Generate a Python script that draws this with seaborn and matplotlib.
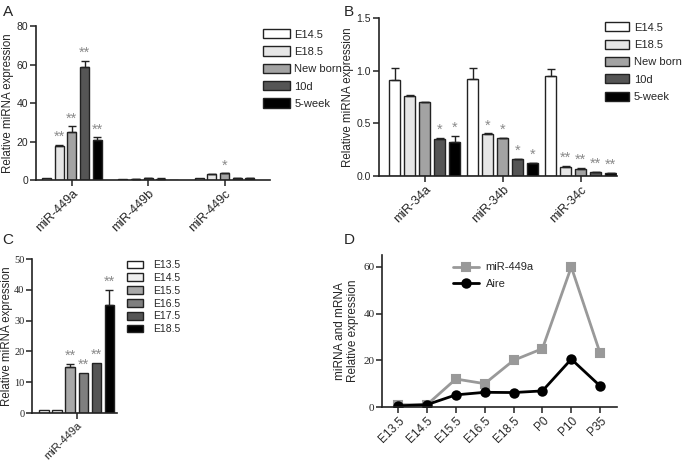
import numpy as np
import pandas as pd
import seaborn as sns
import matplotlib.pyplot as plt

sns.set_style("ticks")
plt.rcParams['font.family'] = ['Liberation Sans', 'DejaVu Sans']

# panel A data
a_groups = ['miR-449a', 'miR-449b', 'miR-449c']
a_stages = ['E14.5', 'E18.5', 'New born', '10d', '5-week']
a_vals = {
    'E14.5': [1.0, 0.8, 1.0],
    'E18.5': [18.0, 0.6, 3.0],
    'New born': [25.3, 0.9, 3.5],
    '10d': [59.0, 0.8, 1.2],
    '5-week': [20.8, 0.3, 1.0],
}
a_err = {
    'E14.5': [0.0, 0.0, 0.0],
    'E18.5': [0.4, 0.1, 0.3],
    'New born': [2.8, 0.1, 0.3],
    '10d': [3.2, 0.1, 0.1],
    '5-week': [1.5, 0.0, 0.1],
}
a_stars = {
    'E14.5': ['', '', ''],
    'E18.5': ['**', '', ''],
    'New born': ['**', '', '*'],
    '10d': ['**', '', ''],
    '5-week': ['**', '', ''],
}

# panel B data
b_groups = ['miR-34a', 'miR-34b', 'miR-34c']
b_vals = {
    'E14.5': [0.91, 0.92, 0.95],
    'E18.5': [0.76, 0.40, 0.09],
    'New born': [0.70, 0.36, 0.07],
    '10d': [0.35, 0.16, 0.035],
    '5-week': [0.32, 0.12, 0.025],
}
b_err = {
    'E14.5': [0.12, 0.11, 0.07],
    'E18.5': [0.005, 0.005, 0.005],
    'New born': [0.005, 0.004, 0.004],
    '10d': [0.015, 0.005, 0.003],
    '5-week': [0.06, 0.003, 0.002],
}
b_stars = {
    'E14.5': ['', '', ''],
    'E18.5': ['', '*', '**'],
    'New born': ['', '*', '**'],
    '10d': ['*', '*', '**'],
    '5-week': ['*', '*', '**'],
}

# panel C data
c_stages = ['E13.5', 'E14.5', 'E15.5', 'E16.5', 'E17.5', 'E18.5']
c_vals = [1.0, 1.0, 15.0, 13.0, 16.2, 35.0]
c_err = [0.0, 0.0, 1.0, 0.0, 0.0, 5.0]
c_stars = ['', '', '**', '**', '**', '**']

# panel D data
d_times = ['E13.5', 'E14.5', 'E15.5', 'E16.5', 'E18.5', 'P0', 'P10', 'P35']
d_mir = [1.0, 1.0, 12.0, 10.0, 20.0, 25.0, 60.0, 23.0]
d_aire = [0.5, 1.0, 5.2, 6.3, 6.2, 6.9, 20.5, 9.0]

ab_colors = ['white', '#e6e6e6', '#a3a3a3', '#555555', 'black']
c_colors = ['white', '#efefef', '#a8a8a8', '#7f7f7f', '#555555', 'black']
star_col = '#8a8a8a'
edge = '#222222'


def to_long(groups, stages, vals, err, stars):
    rows = []
    for s in stages:
        for i, g in enumerate(groups):
            rows.append([g, s, vals[s][i], err[s][i], stars[s][i]])
    return pd.DataFrame(rows, columns=['group', 'stage', 'value', 'err', 'star'])


def bar_panel(ax, df, groups, stages, colors, width, star_off, star_fs):
    sns.barplot(data=df, x='group', y='value', hue='stage', order=groups,
                hue_order=stages, palette=colors, width=width, gap=0.28,
                edgecolor=edge, linewidth=1.0, errorbar=None, ax=ax, legend=True)
    bars = list(ax.containers)
    for k, cont in enumerate(bars):
        sub = df[df['stage'] == stages[k]].set_index('group').loc[groups]
        for j, bar in enumerate(cont):
            xc = bar.get_x() + bar.get_width() / 2
            h = bar.get_height()
            e = sub['err'].iloc[j]
            if e > 0:
                ax.errorbar(xc, h, yerr=[[0], [e]], fmt='none', ecolor=edge,
                            elinewidth=1.0, capsize=3, capthick=1.0)
            st = sub['star'].iloc[j]
            if st:
                ax.text(xc, h + e + star_off, st, ha='center', va='bottom',
                        color=star_col, fontsize=star_fs)


def style_ax(ax, xsize=9, ysize=7.5):
    sns.despine(ax=ax)
    for s in ['left', 'bottom']:
        ax.spines[s].set_linewidth(1.2)
        ax.spines[s].set_color('#222222')
    ax.tick_params(axis='both', direction='out', length=4, width=1.1,
                   color='#222222', pad=1.5)
    ax.tick_params(axis='x', labelsize=xsize)
    ax.tick_params(axis='y', labelsize=ysize)
    ax.set_xlabel('')


fig = plt.figure(figsize=(6.85, 4.62), dpi=100)

# ---- A
axA = fig.add_axes([0.0526, 0.610, 0.342, 0.333])
dfA = to_long(a_groups, a_stages, a_vals, a_err, a_stars)
bar_panel(axA, dfA, a_groups, a_stages, ab_colors, 0.83, 0.3, 10.5)
axA.set_ylim(0, 80)
axA.set_yticks([0, 20, 40, 60, 80])
axA.set_xlim(-0.47, 2.6)
axA.set_ylabel('Relative miRNA expression', fontsize=8.3, labelpad=2)
style_ax(axA)
plt.setp(axA.get_xticklabels(), rotation=45, ha='right', rotation_mode='anchor')
axA.legend(loc='upper left', bbox_to_anchor=(0.384, 0.937), bbox_transform=fig.transFigure,
           frameon=False, fontsize=8, handlelength=2.4, handleheight=0.9,
           labelspacing=0.62, handletextpad=0.4, borderpad=0, borderaxespad=0)

# ---- B
axB = fig.add_axes([0.553, 0.619, 0.347, 0.342])
dfB = to_long(b_groups, a_stages, b_vals, b_err, b_stars)
bar_panel(axB, dfB, b_groups, a_stages, ab_colors, 0.96, 0.01, 10.5)
axB.set_ylim(0, 1.5)
axB.set_yticks([0, 0.5, 1.0, 1.5])
axB.set_yticklabels(['0.0', '0.5', '1.0', '1.5'])
axB.set_xlim(-0.59, 2.46)
axB.set_ylabel('Relative miRNA expression', fontsize=8.3, labelpad=2)
style_ax(axB)
plt.setp(axB.get_xticklabels(), rotation=45, ha='right', rotation_mode='anchor')
axB.legend(loc='upper left', bbox_to_anchor=(0.883, 0.952), bbox_transform=fig.transFigure,
           frameon=False, fontsize=8, handlelength=2.15, handleheight=0.9,
           labelspacing=0.62, handletextpad=0.45, borderpad=0, borderaxespad=0)

# ---- C
axC = fig.add_axes([0.0467, 0.106, 0.124, 0.333])
dfC = pd.DataFrame({'group': ['miR-449a'] * len(c_stages), 'stage': c_stages,
                    'value': c_vals, 'err': c_err, 'star': c_stars})
sns.barplot(data=dfC, x='group', y='value', hue='stage', hue_order=c_stages,
            palette=c_colors, width=0.8, gap=0.28, edgecolor=edge, linewidth=1.0,
            errorbar=None, ax=axC)
for k, cont in enumerate(list(axC.containers)):
    for bar in cont:
        xc = bar.get_x() + bar.get_width() / 2
        h = bar.get_height()
        if c_err[k] > 0:
            axC.errorbar(xc, h, yerr=[[0], [c_err[k]]], fmt='none', ecolor=edge,
                         elinewidth=1.0, capsize=3, capthick=1.0)
        if c_stars[k]:
            axC.text(xc, h + c_err[k] + 0.4, c_stars[k], ha='center', va='bottom',
                     color=star_col, fontsize=10.5)
axC.set_ylim(0, 50)
axC.set_yticks([0, 10, 20, 30, 40, 50])
axC.set_yticklabels(['0', '10', '20', '30', '40', '50'], fontfamily='Liberation Serif')
axC.set_xlim(-0.455, 0.41)
axC.set_ylabel('Relative miRNA expression', fontsize=8.3, labelpad=1)
style_ax(axC, xsize=8, ysize=7.5)
plt.setp(axC.get_xticklabels(), rotation=45, ha='right', rotation_mode='anchor')
axC.legend(loc='upper left', bbox_to_anchor=(0.185, 0.437), bbox_transform=fig.transFigure,
           frameon=False, fontsize=7.5, handlelength=1.6, handleheight=0.75,
           labelspacing=0.27, handletextpad=0.9, borderpad=0, borderaxespad=0)

# ---- D
axD = fig.add_axes([0.558, 0.119, 0.343, 0.329])
dfD = pd.DataFrame({'time': d_times * 2,
                    'value': d_mir + d_aire,
                    'gene': ['miR-449a'] * len(d_times) + ['Aire'] * len(d_times)})
sns.pointplot(data=dfD, x='time', y='value', hue='gene', order=d_times,
              hue_order=['miR-449a', 'Aire'], palette=['#999999', 'black'],
              markers=['s', 'o'], markersize=6, linewidth=2, errorbar=None, ax=axD)
axD.set_ylim(0, 65.1)
axD.set_yticks([0, 20, 40, 60])
axD.set_yticklabels(['0', '20', '40', '60'], fontfamily='Liberation Serif')
axD.set_xlim(-0.55, 7.59)
axD.set_ylabel('miRNA and mRNA\nRelative expression', fontsize=8.5, labelpad=3,
               linespacing=1.1)
style_ax(axD, xsize=8.5, ysize=8)
plt.setp(axD.get_xticklabels(), rotation=45, ha='right', rotation_mode='anchor')
axD.legend(loc='upper left', bbox_to_anchor=(0.662, 0.432), bbox_transform=fig.transFigure,
           frameon=False, fontsize=8, handlelength=2.3, labelspacing=0.55,
           handletextpad=0.6, borderpad=0, borderaxespad=0)

# panel letters
fig.text(0.004, 0.99, 'A', fontsize=11, va='top')
fig.text(0.502, 0.99, 'B', fontsize=11, va='top')
fig.text(0.004, 0.495, 'C', fontsize=11, va='top')
fig.text(0.502, 0.495, 'D', fontsize=11, va='top')

fig.savefig('out.png', dpi=100)
